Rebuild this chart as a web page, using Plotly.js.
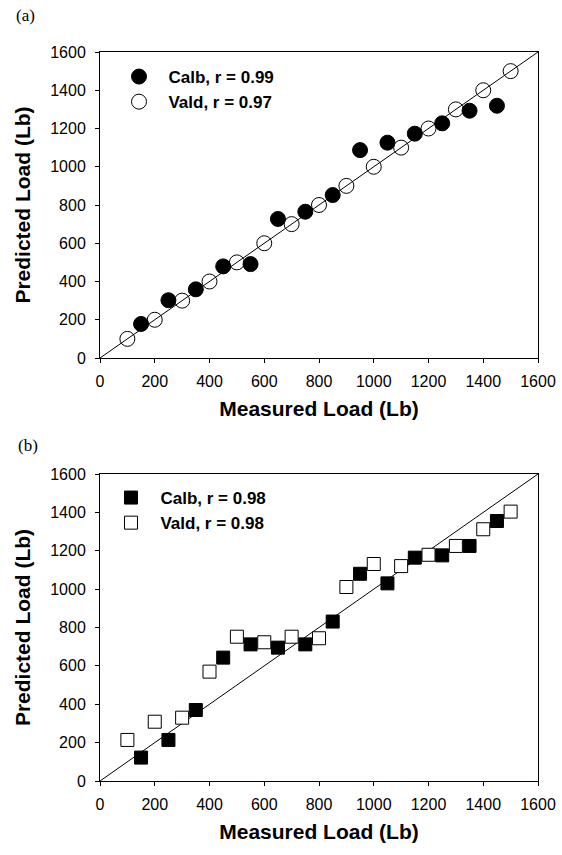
<!DOCTYPE html>
<html><head><meta charset="utf-8">
<script src="https://cdn.plot.ly/plotly-3.0.1.min.js"></script>
<style>html,body{margin:0;padding:0;background:#fff}</style>
</head><body>
<div id="chart" style="width:562px;height:855px"></div>
<script>
// Panel (a)
const aCalbX = [150,250,350,450,550,650,750,850,950,1050,1150,1250,1350,1450];
const aCalbY = [178,302,359,479,491,727,765,852,1087,1126,1173,1227,1293,1319];
const aValdX = [100,200,300,400,500,600,700,800,900,1000,1100,1200,1300,1400,1500];
const aValdY = [100,200,300,400,500,600,700,800,900,1000,1100,1200,1300,1400,1500];
// Panel (b)
const bCalbX = [150,250,350,450,550,650,750,850,950,1050,1150,1250,1350,1450];
const bCalbY = [122,214,370,643,712,695,712,831,1080,1030,1164,1176,1225,1355];
const bValdX = [100,200,300,400,500,600,700,800,900,1000,1100,1200,1300,1400,1500];
const bValdY = [214,309,330,570,752,723,752,744,1011,1131,1120,1179,1225,1312,1404];
const lineXY = [0,1600];
const names = {aCalb:'Calb, r = 0.99', aVald:'Vald, r = 0.97', bCalb:'Calb, r = 0.98', bVald:'Vald, r = 0.98'};
const tickVals = [0,200,400,600,800,1000,1200,1400,1600];

const FONT = 'Liberation Sans, Arial, sans-serif';
const traces = [
  {x:lineXY, y:lineXY, mode:'lines', line:{color:'#000', width:1}, showlegend:false, xaxis:'x', yaxis:'y', hoverinfo:'skip'},
  {x:aCalbX, y:aCalbY, mode:'markers', name:names.aCalb, legend:'legend', legendgroup:'a1',
   marker:{symbol:'circle', size:15, color:'#000', line:{color:'#000', width:1}}, xaxis:'x', yaxis:'y'},
  {x:aValdX, y:aValdY, mode:'markers', name:names.aVald, legend:'legend', legendgroup:'a2',
   marker:{symbol:'circle-open', size:15, color:'#000', line:{color:'#000', width:1}}, xaxis:'x', yaxis:'y'},
  {x:lineXY, y:lineXY, mode:'lines', line:{color:'#000', width:1}, showlegend:false, xaxis:'x2', yaxis:'y2', hoverinfo:'skip'},
  {x:bCalbX, y:bCalbY, mode:'markers', name:names.bCalb, legend:'legend2', legendgroup:'b1',
   marker:{symbol:'square', size:13, color:'#000', line:{color:'#000', width:1}}, xaxis:'x2', yaxis:'y2'},
  {x:bValdX, y:bValdY, mode:'markers', name:names.bVald, legend:'legend2', legendgroup:'b2',
   marker:{symbol:'square', size:13, color:'#fff', line:{color:'#000', width:1}}, xaxis:'x2', yaxis:'y2'}
];

function xax(anchor){
  return {range:[0,1600], tickvals:tickVals, ticks:'outside', ticklen:4, tickcolor:'#000', tickwidth:1,
    showline:true, linecolor:'#000', linewidth:1, mirror:true, showgrid:false, zeroline:false,
    tickfont:{family:FONT, size:16, color:'#000'}, anchor:anchor, ticklabelstandoff:5,
    title:{text:'<b>Measured Load (Lb)</b>', font:{family:FONT, size:21, color:'#000'}, standoff:12}};
}
function yax(anchor, domain){
  return {range:[0,1600], tickvals:tickVals, ticks:'outside', ticklen:4, tickcolor:'#000', tickwidth:1,
    showline:true, linecolor:'#000', linewidth:1, mirror:true, showgrid:false, zeroline:false,
    tickfont:{family:FONT, size:16, color:'#000'}, anchor:anchor, domain:domain, ticklabelstandoff:6,
    title:{text:'<b>Predicted Load (Lb)</b>', font:{family:FONT, size:21, color:'#000'}, standoff:13}};
}
const H = 781-52;
const legFont = {family:FONT, size:17, color:'#000'};
const layout = {
  width:562, height:855, paper_bgcolor:'#fff', plot_bgcolor:'#fff',
  margin:{l:100, r:24, t:52, b:74},
  showlegend:true,
  xaxis: xax('y'),
  yaxis: yax('x', [(781-358)/H, 1]),
  xaxis2: xax('y2'),
  yaxis2: yax('x2', [0, (781-474)/H]),
  legend:{x:0.0434, y:(781-59)/H, xanchor:'left', yanchor:'top', bgcolor:'rgba(0,0,0,0)', font:legFont, tracegroupgap:0, itemclick:false},
  legend2:{x:0.0251, y:(781-480)/H, xanchor:'left', yanchor:'top', bgcolor:'rgba(0,0,0,0)', font:legFont, tracegroupgap:0, itemclick:false},
  annotations:[
    {text:'(a)', xref:'paper', yref:'paper', x:(14-100)/438, y:(781-15)/H, xanchor:'left', yanchor:'middle', showarrow:false,
     font:{family:'Liberation Serif, Times New Roman, serif', size:17, color:'#000'}},
    {text:'(b)', xref:'paper', yref:'paper', x:(16-100)/438, y:(781-445)/H, xanchor:'left', yanchor:'middle', showarrow:false,
     font:{family:'Liberation Serif, Times New Roman, serif', size:17, color:'#000'}}
  ]
};
traces.forEach(t=>{ if(t.name) t.name = '&nbsp;&nbsp;<b>'+t.name+'</b>'; });
Plotly.newPlot('chart', traces, layout, {staticPlot:true, displayModeBar:false});
</script>
</body></html>
